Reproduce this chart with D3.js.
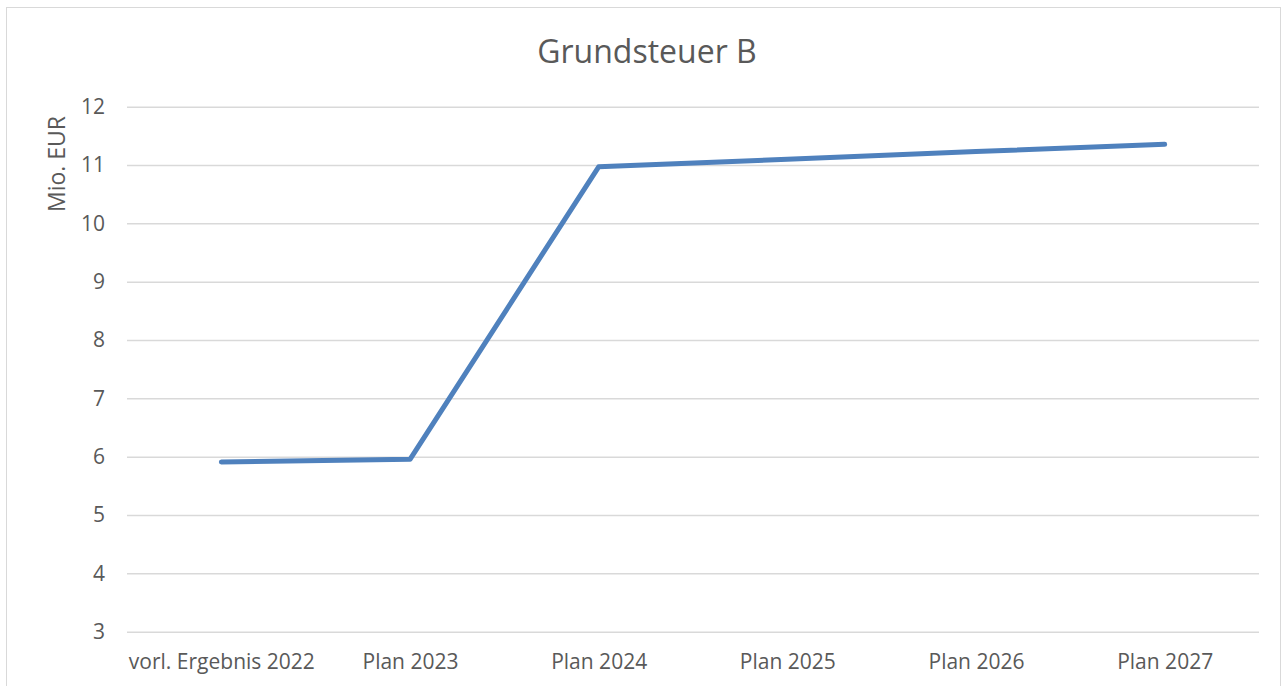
<!DOCTYPE html>
<html>
<head>
<meta charset="utf-8">
<script src="https://cdn.jsdelivr.net/npm/d3@7"></script>
<style>
  body { margin: 0; background: #fff; }
  svg { display: block; }
  svg text { font-family: "Open Sans", "Liberation Sans", sans-serif; }
</style>
</head>
<body>
<svg id="chart" width="1287" height="686"></svg>
<script>
const categories = ['vorl. Ergebnis 2022', 'Plan 2023', 'Plan 2024', 'Plan 2025', 'Plan 2026', 'Plan 2027'];
const values = [5.91, 5.955, 10.97, 11.10, 11.23, 11.355];
const yTicks = [3, 4, 5, 6, 7, 8, 9, 10, 11, 12];

const svg = d3.select('#chart'),
    margin = { top: 106.7, right: 28, bottom: 54.3, left: 127 },
    width = 1287 - margin.left - margin.right,
    height = 686 - margin.top - margin.bottom;

// chart frame
svg.append('rect')
    .attr('x', 6.5).attr('y', 7.5).attr('width', 1274).attr('height', 690)
    .attr('fill', '#fff').attr('stroke', '#d9d9d9').attr('stroke-width', 1);

svg.append('text')
    .attr('x', 647).attr('y', 63)
    .attr('text-anchor', 'middle')
    .attr('fill', '#595959')
    .style('font-size', '32px')
    .text('Grundsteuer B');

const g = svg.append('g').attr('transform', 'translate(' + margin.left + ',' + margin.top + ')');

const x = d3.scalePoint().domain(categories).range([0, width]).padding(0.5);
const y = d3.scaleLinear().domain([3, 12]).range([height, 0]);

g.append('g')
    .call(d3.axisLeft(y).tickValues(yTicks).tickSize(-width).tickPadding(22))
    .call(function (g) {
        g.select('.domain').remove();
        g.attr('font-family', null);
        g.selectAll('.tick line').attr('stroke', '#d9d9d9').attr('stroke-width', 1.5);
        g.selectAll('.tick text').attr('fill', '#595959').style('font-size', '21px');
    });

g.append('g')
    .attr('transform', 'translate(0,' + height + ')')
    .call(d3.axisBottom(x).tickSize(0).tickPadding(22))
    .call(function (g) {
        g.select('.domain').remove();
        g.attr('font-family', null);
        g.selectAll('.tick text').attr('fill', '#595959').style('font-size', '21px');
    });

svg.append('text')
    .attr('transform', 'translate(65,164) rotate(-90)')
    .attr('text-anchor', 'middle')
    .attr('fill', '#595959')
    .style('font-size', '23px')
    .text('Mio. EUR');

const line = d3.line()
    .x(function (d, i) { return x(categories[i]); })
    .y(function (d) { return y(d); });

g.append('path')
    .datum(values)
    .attr('d', line)
    .attr('fill', 'none')
    .attr('stroke', '#4f81bd')
    .attr('stroke-width', 5)
    .attr('stroke-linecap', 'round')
    .attr('stroke-linejoin', 'round');
</script>
</body>
</html>
